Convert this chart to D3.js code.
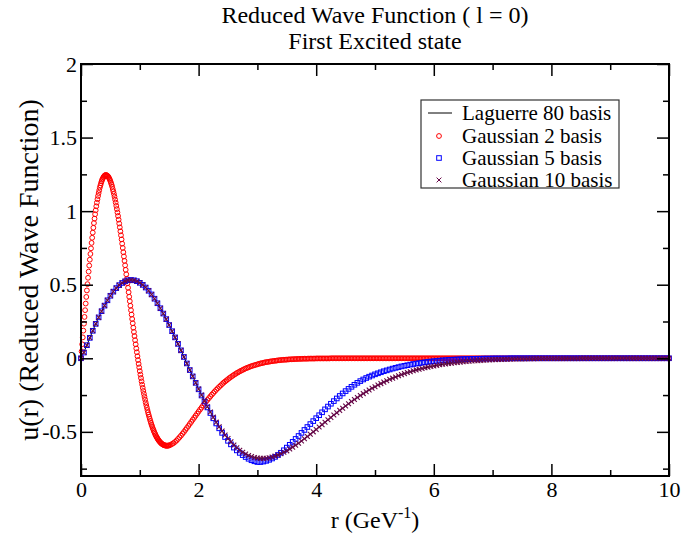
<!DOCTYPE html>
<html><head><meta charset="utf-8">
<script src="https://cdn.jsdelivr.net/npm/d3@7"></script>
<style>
body{margin:0;background:#fff}
text{font-family:"Liberation Serif","Times New Roman",Times,serif;fill:#000}
</style></head>
<body><svg id="chart" width="681" height="537"></svg>
<script>
// ---------------- data ----------------
const titleLines = ["Reduced Wave Function ( l = 0)", "First Excited state"];
const seriesNames = ["Laguerre 80 basis", "Gaussian 2 basis", "Gaussian 5 basis", "Gaussian 10 basis"];
const xTicks = [0, 2, 4, 6, 8, 10];
const xMinorTicks = [1, 3, 5, 7, 9];
const yTicks = [-0.5, 0, 0.5, 1, 1.5, 2];
const yMinorTicks = [-0.75, -0.25, 0.25, 0.75, 1.25, 1.75];

// Laguerre 80 basis: r = 0 .. 10, step 0.1
const laguerre80 = [
0,0.089,0.187,0.278,0.358,0.425,0.477,0.512,0.530,0.530,
0.513,0.481,0.434,0.374,0.304,0.226,0.142,0.054,-0.035,-0.123,
-0.209,-0.290,-0.365,-0.434,-0.494,-0.545,-0.590,-0.625,-0.651,-0.668,
-0.678,-0.680,-0.676,-0.665,-0.649,-0.629,-0.604,-0.577,-0.547,-0.516,
-0.484,-0.451,-0.418,-0.386,-0.354,-0.324,-0.294,-0.266,-0.240,-0.216,
-0.193,-0.172,-0.153,-0.135,-0.119,-0.104,-0.091,-0.079,-0.069,-0.060,
-0.052,-0.044,-0.038,-0.033,-0.028,-0.024,-0.020,-0.017,-0.014,-0.012,
-0.010,-0.008,-0.007,-0.006,-0.005,-0.004,-0.003,-0.003,-0.002,-0.002,
-0.001,-0.001,-0.001,-0.001,-0.001,0,0,0,0,0,
0,0,0,0,0,0,0,0,0,0,
0];

// Gaussian 2 basis, part 1: r = 0 .. 1.50 step 0.01
const gauss2Near = [
0,0.047,0.095,0.142,0.188,0.235,0.281,0.327,0.372,0.417,
0.461,0.504,0.547,0.589,0.630,0.670,0.709,0.747,0.784,0.819,
0.854,0.887,0.919,0.949,0.979,1.006,1.033,1.058,1.081,1.103,
1.123,1.142,1.160,1.175,1.189,1.202,1.213,1.222,1.230,1.236,
1.241,1.244,1.245,1.245,1.243,1.240,1.236,1.230,1.223,1.214,
1.204,1.192,1.180,1.166,1.150,1.134,1.117,1.098,1.078,1.058,
1.036,1.014,0.991,0.967,0.942,0.916,0.890,0.863,0.836,0.808,
0.779,0.750,0.721,0.692,0.662,0.632,0.601,0.571,0.540,0.510,
0.479,0.449,0.418,0.388,0.357,0.327,0.297,0.267,0.238,0.208,
0.179,0.151,0.123,0.095,0.067,0.041,0.014,-0.012,-0.038,-0.062,
-0.087,-0.111,-0.134,-0.157,-0.179,-0.201,-0.222,-0.242,-0.262,-0.281,
-0.300,-0.318,-0.335,-0.352,-0.368,-0.383,-0.398,-0.412,-0.426,-0.439,
-0.452,-0.463,-0.475,-0.485,-0.496,-0.505,-0.514,-0.523,-0.531,-0.538,
-0.545,-0.551,-0.557,-0.563,-0.567,-0.572,-0.576,-0.580,-0.583,-0.585,
-0.588,-0.590,-0.591,-0.593,-0.593,-0.594,-0.594,-0.594,-0.593,-0.593,
-0.592];
// Gaussian 2 basis, part 2: r = 1.525 .. 10 step 0.025
const gauss2Far = [
-0.588,-0.582,-0.576,-0.568,-0.559,-0.548,-0.537,-0.526,-0.513,-0.501,
-0.487,-0.474,-0.460,-0.446,-0.432,-0.418,-0.404,-0.390,-0.376,-0.362,
-0.348,-0.335,-0.321,-0.308,-0.295,-0.283,-0.271,-0.259,-0.247,-0.236,
-0.225,-0.214,-0.204,-0.194,-0.185,-0.175,-0.166,-0.158,-0.150,-0.142,
-0.134,-0.127,-0.120,-0.113,-0.107,-0.100,-0.095,-0.089,-0.084,-0.079,
-0.074,-0.069,-0.065,-0.061,-0.057,-0.053,-0.050,-0.047,-0.044,-0.041,
-0.038,-0.035,-0.033,-0.031,-0.028,-0.026,-0.025,-0.023,-0.021,-0.020,
-0.018,-0.017,-0.016,-0.014,-0.013,-0.012,-0.011,-0.010,-0.010,-0.009,
-0.008,-0.007,-0.007,-0.006,-0.006,-0.005,-0.005,-0.004,-0.004,-0.004,
-0.003,-0.003,-0.003,-0.003,-0.002,-0.002,-0.002,-0.002,-0.002,-0.001,
-0.001,-0.001,-0.001,-0.001,-0.001,-0.001,-0.001,-0.001,-0.001,
0,0,0,0,0,0,0,0,0,0,0,0,0,0,0,0,0,0,0,0,
0,0,0,0,0,0,0,0,0,0,0,0,0,0,0,0,0,0,0,0,
0,0,0,0,0,0,0,0,0,0,0,0,0,0,0,0,0,0,0,0,
0,0,0,0,0,0,0,0,0,0,0,0,0,0,0,0,0,0,0,0,
0,0,0,0,0,0,0,0,0,0,0,0,0,0,0,0,0,0,0,0,
0,0,0,0,0,0,0,0,0,0,0,0,0,0,0,0,0,0,0,0,
0,0,0,0,0,0,0,0,0,0,0,0,0,0,0,0,0,0,0,0,
0,0,0,0,0,0,0,0,0,0,0,0,0,0,0,0,0,0,0,0,
0,0,0,0,0,0,0,0,0,0,0,0,0,0,0,0,0,0,0,0,
0,0,0,0,0,0,0,0,0,0,0,0,0,0,0,0,0,0,0,0,
0,0,0,0,0,0,0,0,0,0,0,0,0,0,0,0,0,0,0,0,
0,0,0,0,0,0,0,0,0,0,0];

// Gaussian 5 basis: r = 0 .. 10 step 0.05
const gauss5 = [
0,0.039,0.089,0.139,0.187,0.234,0.278,0.320,0.358,0.394,
0.425,0.453,0.477,0.497,0.512,0.523,0.530,0.532,0.530,0.524,
0.513,0.499,0.481,0.459,0.434,0.405,0.374,0.340,0.304,0.266,
0.226,0.184,0.142,0.098,0.054,0.009,-0.035,-0.080,-0.123,-0.167,
-0.211,-0.253,-0.294,-0.334,-0.372,-0.408,-0.443,-0.476,-0.507,-0.535,
-0.561,-0.585,-0.607,-0.626,-0.643,-0.658,-0.671,-0.683,-0.693,-0.700,
-0.705,-0.705,-0.702,-0.697,-0.690,-0.681,-0.670,-0.657,-0.642,-0.625,
-0.607,-0.588,-0.568,-0.548,-0.528,-0.507,-0.487,-0.467,-0.447,-0.427,
-0.407,-0.387,-0.367,-0.347,-0.328,-0.309,-0.291,-0.273,-0.256,-0.239,
-0.223,-0.208,-0.194,-0.180,-0.167,-0.155,-0.144,-0.134,-0.125,-0.117,
-0.109,-0.102,-0.095,-0.088,-0.082,-0.076,-0.070,-0.065,-0.060,-0.055,
-0.051,-0.047,-0.043,-0.039,-0.036,-0.033,-0.030,-0.027,-0.024,-0.022,
-0.020,-0.018,-0.016,-0.014,-0.013,-0.011,-0.010,-0.009,-0.008,-0.007,
-0.006,-0.005,-0.005,-0.004,-0.004,-0.003,-0.003,-0.002,-0.002,-0.002,
-0.001,-0.001,-0.001,-0.001,-0.001,-0.001,0,0,0,0,
0,0,0,0,0,0,0,0,0,0,0,0,0,0,0,0,0,0,0,0,
0,0,0,0,0,0,0,0,0,0,0,0,0,0,0,0,0,0,0,0,
0,0,0,0,0,0,0,0,0,0,0,0,0,0,0,0,0,0,0,0,
0];

// Gaussian 10 basis: r = 0 .. 10 step 0.05
const gauss10 = [
0,0.039,0.089,0.139,0.187,0.234,0.278,0.320,0.358,0.394,
0.425,0.453,0.477,0.497,0.512,0.523,0.530,0.532,0.530,0.524,
0.513,0.499,0.481,0.459,0.434,0.405,0.374,0.340,0.304,0.266,
0.226,0.184,0.142,0.098,0.054,0.009,-0.035,-0.080,-0.123,-0.167,
-0.209,-0.250,-0.290,-0.329,-0.365,-0.400,-0.434,-0.465,-0.494,-0.521,
-0.545,-0.568,-0.590,-0.608,-0.625,-0.639,-0.651,-0.661,-0.668,-0.674,
-0.678,-0.680,-0.680,-0.679,-0.676,-0.671,-0.665,-0.658,-0.649,-0.639,
-0.629,-0.617,-0.604,-0.591,-0.577,-0.562,-0.547,-0.532,-0.516,-0.500,
-0.484,-0.467,-0.451,-0.435,-0.418,-0.402,-0.386,-0.370,-0.354,-0.339,
-0.324,-0.309,-0.294,-0.280,-0.266,-0.253,-0.240,-0.228,-0.216,-0.204,
-0.193,-0.182,-0.172,-0.162,-0.153,-0.143,-0.135,-0.127,-0.119,-0.111,
-0.104,-0.097,-0.091,-0.085,-0.079,-0.074,-0.069,-0.064,-0.060,-0.056,
-0.052,-0.048,-0.044,-0.041,-0.038,-0.035,-0.033,-0.030,-0.028,-0.026,
-0.024,-0.022,-0.020,-0.018,-0.017,-0.016,-0.014,-0.013,-0.012,-0.011,
-0.010,-0.009,-0.008,-0.008,-0.007,-0.006,-0.006,-0.005,-0.005,-0.004,
-0.004,-0.004,-0.003,-0.003,-0.003,-0.002,-0.002,-0.002,-0.002,-0.002,
-0.001,-0.001,-0.001,-0.001,-0.001,-0.001,-0.001,-0.001,-0.001,-0.001,
0,0,0,0,0,0,0,0,0,0,0,0,0,0,0,0,0,0,0,0,
0,0,0,0,0,0,0,0,0,0,0];

// ---------------- grids ----------------
const rStep10 = d3.range(laguerre80.length).map(i => i / 10);
const rNear = d3.range(gauss2Near.length).map(i => i / 100);
const rFar = d3.range(gauss2Far.length).map(i => 1.525 + i / 40);
const rStep20 = d3.range(gauss10.length).map(i => i / 20);

const colors = {lag: "#000000", g2: "#ff0000", g5: "#0000ff", g10: "#670748"};

// ---------------- layout ----------------
const svg = d3.select("#chart");
const L = 81, R = 669, T = 64, B = 476;
const x = d3.scaleLinear().domain([0, 10]).range([L, R]);
const y = d3.scaleLinear().domain([-0.8, 2]).range([B, T]);
const fmt = d => String(d);
const FONT = '"Liberation Serif","Times New Roman",serif';

// ---------------- data marks ----------------
const plot = svg.append("g");
plot.append("path")
  .datum(rStep10.map((r, i) => [r, laguerre80[i]]))
  .attr("fill", "none").attr("stroke", colors.lag).attr("stroke-width", 1)
  .attr("d", d3.line().x(d => x(d[0])).y(d => y(d[1])).curve(d3.curveCatmullRom));

const cr = 2.4;
const g2pts = rNear.map((r, i) => [r, gauss2Near[i]])
  .concat(rFar.map((r, i) => [r, gauss2Far[i]]));
plot.append("g").selectAll("circle").data(g2pts).join("circle")
  .attr("cx", d => x(d[0])).attr("cy", d => y(d[1])).attr("r", cr)
  .attr("fill", "none").attr("stroke", colors.g2).attr("stroke-width", 1);

const sq = 4.6;
plot.append("g").selectAll("rect").data(rStep20.map((r, i) => [r, gauss5[i]])).join("rect")
  .attr("x", d => x(d[0]) - sq / 2).attr("y", d => y(d[1]) - sq / 2)
  .attr("width", sq).attr("height", sq)
  .attr("fill", "none").attr("stroke", colors.g5).attr("stroke-width", 1);

const xs = 2.4;
plot.append("g").selectAll("path").data(rStep20.map((r, i) => [r, gauss10[i]])).join("path")
  .attr("transform", d => `translate(${x(d[0])},${y(d[1])})`)
  .attr("d", `M${-xs},${-xs}L${xs},${xs}M${-xs},${xs}L${xs},${-xs}`)
  .attr("fill", "none").attr("stroke", colors.g10).attr("stroke-width", 1.1);

// ---------------- axes ----------------
function styleAxis(g) {
  g.select(".domain").remove();
  g.selectAll(".tick line").attr("stroke", "#000").attr("stroke-width", 1.5);
  g.selectAll(".tick text").attr("font-family", FONT).attr("font-size", 22).attr("fill", "#000");
}
svg.append("g").attr("transform", `translate(0,${B})`)
  .call(d3.axisBottom(x).tickValues(xTicks).tickSize(-12).tickPadding(5).tickFormat(fmt)).call(styleAxis);
svg.append("g").attr("transform", `translate(0,${B})`)
  .call(d3.axisBottom(x).tickValues(xMinorTicks).tickSize(-6).tickFormat("")).call(styleAxis);
svg.append("g").attr("transform", `translate(0,${T})`)
  .call(d3.axisTop(x).tickValues(xTicks).tickSize(-12).tickFormat("")).call(styleAxis);
svg.append("g").attr("transform", `translate(0,${T})`)
  .call(d3.axisTop(x).tickValues(xMinorTicks).tickSize(-6).tickFormat("")).call(styleAxis);
svg.append("g").attr("transform", `translate(${L},0)`)
  .call(d3.axisLeft(y).tickValues(yTicks).tickSize(-12).tickPadding(4).tickFormat(fmt)).call(styleAxis);
svg.append("g").attr("transform", `translate(${L},0)`)
  .call(d3.axisLeft(y).tickValues(yMinorTicks).tickSize(-6).tickFormat("")).call(styleAxis);
svg.append("g").attr("transform", `translate(${R},0)`)
  .call(d3.axisRight(y).tickValues(yTicks).tickSize(-12).tickFormat("")).call(styleAxis);
svg.append("g").attr("transform", `translate(${R},0)`)
  .call(d3.axisRight(y).tickValues(yMinorTicks).tickSize(-6).tickFormat("")).call(styleAxis);

svg.append("rect").attr("x", L).attr("y", T).attr("width", R - L).attr("height", B - T)
  .attr("fill", "none").attr("stroke", "#000").attr("stroke-width", 2);

// ---------------- titles ----------------
svg.append("text").attr("x", (L + R) / 2).attr("y", 23).attr("text-anchor", "middle")
  .attr("font-size", 24).text(titleLines[0]);
svg.append("text").attr("x", (L + R) / 2).attr("y", 49).attr("text-anchor", "middle")
  .attr("font-size", 24).text(titleLines[1]);

const xl = svg.append("text").attr("x", (L + R) / 2).attr("y", 528).attr("text-anchor", "middle")
  .attr("font-size", 24);
xl.append("tspan").text("r (GeV");
xl.append("tspan").attr("font-size", 16).attr("dy", -10).text("-1");
xl.append("tspan").attr("dy", 10).text(")");

svg.append("text").attr("transform", `translate(38,${(T + B) / 2}) rotate(-90)`)
  .attr("text-anchor", "middle").attr("font-size", 28).text("u(r) (Reduced Wave Function)");

// ---------------- legend ----------------
const lg = svg.append("g");
lg.append("rect").attr("x", 421).attr("y", 100).attr("width", 198).attr("height", 88)
  .attr("fill", "#fff").attr("stroke", "#333").attr("stroke-width", 1.2);
const rowY = [113, 136, 158, 180];
const mx = 439;
lg.append("line").attr("x1", 428).attr("x2", 452).attr("y1", rowY[0]).attr("y2", rowY[0])
  .attr("stroke", colors.lag).attr("stroke-width", 1);
lg.append("circle").attr("cx", mx).attr("cy", rowY[1]).attr("r", cr)
  .attr("fill", "none").attr("stroke", colors.g2);
lg.append("rect").attr("x", mx - sq / 2).attr("y", rowY[2] - sq / 2).attr("width", sq).attr("height", sq)
  .attr("fill", "none").attr("stroke", colors.g5);
lg.append("path").attr("transform", `translate(${mx},${rowY[3]})`)
  .attr("d", `M${-xs},${-xs}L${xs},${xs}M${-xs},${xs}L${xs},${-xs}`)
  .attr("stroke", colors.g10).attr("fill", "none");
seriesNames.forEach((n, i) => {
  lg.append("text").attr("x", 462).attr("y", rowY[i] + 7).attr("font-size", 21).text(n);
});
</script></body></html>
